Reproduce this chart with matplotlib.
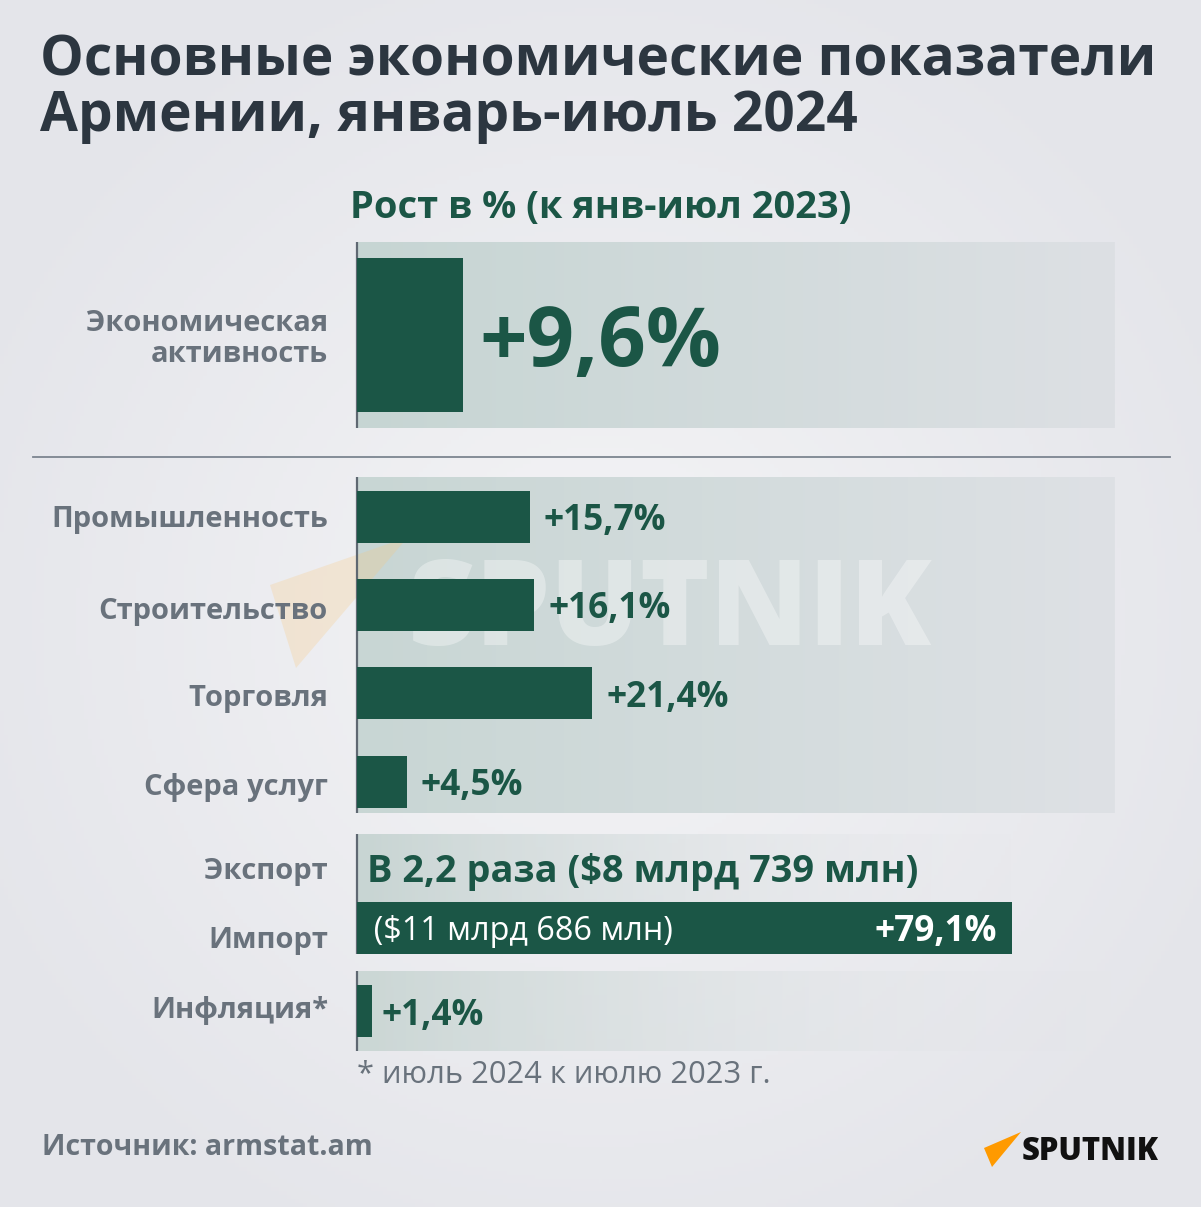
import matplotlib
matplotlib.use("Agg")
import matplotlib.pyplot as plt
import numpy as np
from matplotlib.patches import Polygon

# ---------------- data ----------------
title_lines = ["Основные экономические показатели", "Армении, январь-июль 2024"]
subtitle = "Рост в % (к янв-июл 2023)"

top_category = "Экономическая\nактивность"
top_value = 9.6
top_label = "+9,6%"

sector_categories = ["Промышленность", "Строительство", "Торговля", "Сфера услуг"]
sector_values = [15.7, 16.1, 21.4, 4.5]
sector_labels = ["+15,7%", "+16,1%", "+21,4%", "+4,5%"]

export_category = "Экспорт"
export_text = "В 2,2 раза ($8 млрд 739 млн)"
import_category = "Импорт"
import_value = 79.1
import_amount = "($11 млрд 686 млн)"
import_label = "+79,1%"

inflation_category = "Инфляция*"
inflation_value = 1.4
inflation_label = "+1,4%"

footnote = "* июль 2024 к июлю 2023 г."
source = "Источник: armstat.am"
brand = "SPUTNIK"

# ---------------- style / layout ----------------
W, H = 1201, 1207
GREEN = "#1b5646"
TITLE_C = "#2c3640"
LABEL_C = "#69727c"
AXIS_C = "#5f6872"
FONT = ["Open Sans", "DejaVu Sans"]
PX_PER_PCT = 11.0          # scale of the growth bars
IMPORT_PX_PER_PCT = 8.28   # scale of the import bar
X0, X1 = 357, 1115         # plot area in pixels

fig = plt.figure(figsize=(W / 100, H / 100), dpi=100)
bg = fig.add_axes([0, 0, 1, 1])
bg.set_xlim(0, W)
bg.set_ylim(H, 0)
bg.axis("off")

# page background: light grey with a softer centre
yy, xx = np.mgrid[0:H:4, 0:W:4]
d = np.sqrt(((xx - 600) / 700.0) ** 2 + ((yy - 620) / 700.0) ** 2)
d = np.clip(d, 0, 1)[..., None]
c_in = np.array([244, 244, 246]) / 255
c_out = np.array([228, 229, 234]) / 255
bg.imshow(c_in * (1 - d) + c_out * d, extent=(0, W, H, 0), zorder=0, aspect="auto")


def panel(x0, x1, y0, y1, left, right, alpha_end=1.0):
    t = np.linspace(0, 1, 256)
    L = np.array(left) / 255
    R = np.array(right) / 255
    rgb = L[None, :] * (1 - t[:, None]) + R[None, :] * t[:, None]
    a = np.ones(256) * 1.0
    a = a * (1 - t) + alpha_end * t
    img = np.concatenate([rgb, a[:, None]], axis=1)[None, :, :]
    bg.imshow(img, extent=(x0, x1, y1, y0), zorder=1, aspect="auto", interpolation="bilinear")


panel(X0, X1, 242, 428, (198, 213, 211), (221, 224, 228))
panel(X0, X1, 477, 813, (200, 214, 212), (222, 225, 229))
panel(X0, 1015, 834, 954, (200, 213, 211), (228, 229, 233), alpha_end=0.0)
panel(X0, X1, 971, 1051, (203, 215, 213), (230, 231, 235), alpha_end=0.0)

# axis lines
for (a, b) in [(242, 428), (477, 813), (834, 954), (971, 1051)]:
    bg.plot([X0, X0], [a, b], color=AXIS_C, lw=1.6, zorder=5, solid_capstyle="butt")
bg.plot([33, 1170], [457, 457], color="#7c8590", lw=1.3, zorder=5)

# watermark
wm_tri = Polygon([(408, 537), (270, 585), (296, 668)], closed=True,
                 facecolor="#f9c77a", alpha=0.25, edgecolor="none", zorder=2)
bg.add_patch(wm_tri)
wm = bg.text(408, 645, brand, fontsize=80, fontweight="heavy", color="white",
             alpha=0.35, family=FONT, va="baseline", ha="left", zorder=8)

# bars axes
ax = fig.add_axes([X0 / W, 0, (X1 - X0) / W, 1])
ax.set_xlim(0, (X1 - X0) / PX_PER_PCT)
ax.set_ylim(H, 0)
ax.axis("off")
ax.patch.set_alpha(0)

top_y, top_h = 334.5, 154
sector_y = [516.5, 604.5, 693, 781.5]
bar_h = 52
inflation_y = 1011

ax.barh([top_y], [top_value], height=top_h, color=GREEN, zorder=3)
ax.barh(sector_y, sector_values, height=bar_h, color=GREEN, zorder=3)
ax.barh([inflation_y], [inflation_value], height=bar_h, color=GREEN, zorder=3)

ax_imp = fig.add_axes([X0 / W, 0, (X1 - X0) / W, 1])
ax_imp.set_xlim(0, (X1 - X0) / IMPORT_PX_PER_PCT)
ax_imp.set_ylim(H, 0)
ax_imp.axis("off")
ax_imp.patch.set_alpha(0)
import_y = 927.5
ax_imp.barh([import_y], [import_value], height=bar_h, color=GREEN, zorder=3)

fig.canvas.draw()
R = fig.canvas.get_renderer()


def fit(t, target_w):
    bb = t.get_window_extent(R)
    t.set_fontsize(t.get_fontsize() * target_w / bb.width)
    return t.get_fontsize()


fit(wm, 525)

# title
t1 = bg.text(40, 76, title_lines[0], fontsize=36, fontweight="bold", color=TITLE_C,
             family=FONT, va="baseline", ha="left")
fs = fit(t1, 1118)
bg.text(40, 131, title_lines[1], fontsize=fs, fontweight="bold", color=TITLE_C,
        family=FONT, va="baseline", ha="left")

st = bg.text(350, 218, subtitle, fontsize=24, fontweight="bold", color=GREEN,
             family=FONT, va="baseline", ha="left")
fit(st, 502)

# category labels
ref = bg.text(328, 527, sector_categories[0], fontsize=18, fontweight="bold",
              color=LABEL_C, family=FONT, va="baseline", ha="right")
lfs = fit(ref, 278)
cat_base = [619, 706, 795]
for name, yb in zip(sector_categories[1:], cat_base):
    bg.text(328, yb, name, fontsize=lfs, fontweight="bold", color=LABEL_C,
            family=FONT, va="baseline", ha="right")
tl = top_category.split("\n")
bg.text(328, 331, tl[0], fontsize=lfs, fontweight="bold", color=LABEL_C, family=FONT,
        va="baseline", ha="right")
bg.text(328, 362, tl[1], fontsize=lfs, fontweight="bold", color=LABEL_C, family=FONT,
        va="baseline", ha="right")
for name, yb in [(export_category, 879), (import_category, 948), (inflation_category, 1018)]:
    bg.text(328, yb, name, fontsize=lfs, fontweight="bold", color=LABEL_C,
            family=FONT, va="baseline", ha="right")

# value labels
big = ax.annotate(top_label, xy=(top_value, top_y), xytext=(17, 0), textcoords="offset pixels",
                  fontsize=60, fontweight="bold", color=GREEN, family=FONT,
                  va="center_baseline", ha="left", zorder=6)
fit(big, 242)
vref = bg.text(0, 0, sector_labels[0], fontsize=22, fontweight="bold", family=FONT)
vfs = fit(vref, 122)
vref.remove()
for v, yc, lab in zip(sector_values, sector_y, sector_labels):
    ax.annotate(lab, xy=(v, yc), xytext=(14, 0), textcoords="offset pixels",
                fontsize=vfs, fontweight="bold", color=GREEN, family=FONT,
                va="center_baseline", ha="left", zorder=6)
ax.annotate(inflation_label, xy=(inflation_value, inflation_y), xytext=(9, 0),
            textcoords="offset pixels", fontsize=vfs, fontweight="bold", color=GREEN,
            family=FONT, va="center_baseline", ha="left", zorder=6)

ex = bg.text(367, 882, export_text, fontsize=24, fontweight="bold", color=GREEN,
             family=FONT, va="baseline", ha="left", zorder=6)
fit(ex, 551)
ia = ax_imp.text(0, import_y, "  " + import_amount, fontsize=18, color="white",
                 family=FONT, va="center_baseline", ha="left", zorder=6)
ia.set_fontsize(vfs * 0.92)
il = ax_imp.annotate(import_label, xy=(import_value, import_y), xytext=(-15, 0),
                     textcoords="offset pixels", fontsize=vfs, fontweight="bold",
                     color="white", family=FONT, va="center_baseline", ha="right", zorder=6)

fn = bg.text(357, 1083, footnote, fontsize=18, color=LABEL_C, family=FONT,
             va="baseline", ha="left")
fit(fn, 414)
so = bg.text(42, 1155, source, fontsize=18, fontweight="bold", color=LABEL_C,
             family=FONT, va="baseline", ha="left")
fit(so, 331)

# logo
bg.add_patch(Polygon([(1021, 1132), (984, 1148), (992, 1167)], closed=True,
                     facecolor="#ff9a00", edgecolor="none", zorder=6))
lg = bg.text(1022, 1160, brand, fontsize=22, fontweight="heavy", color="#111111",
             family=FONT, va="baseline", ha="left", zorder=6)
fit(lg, 137)

fig.savefig("out.png", dpi=100)
